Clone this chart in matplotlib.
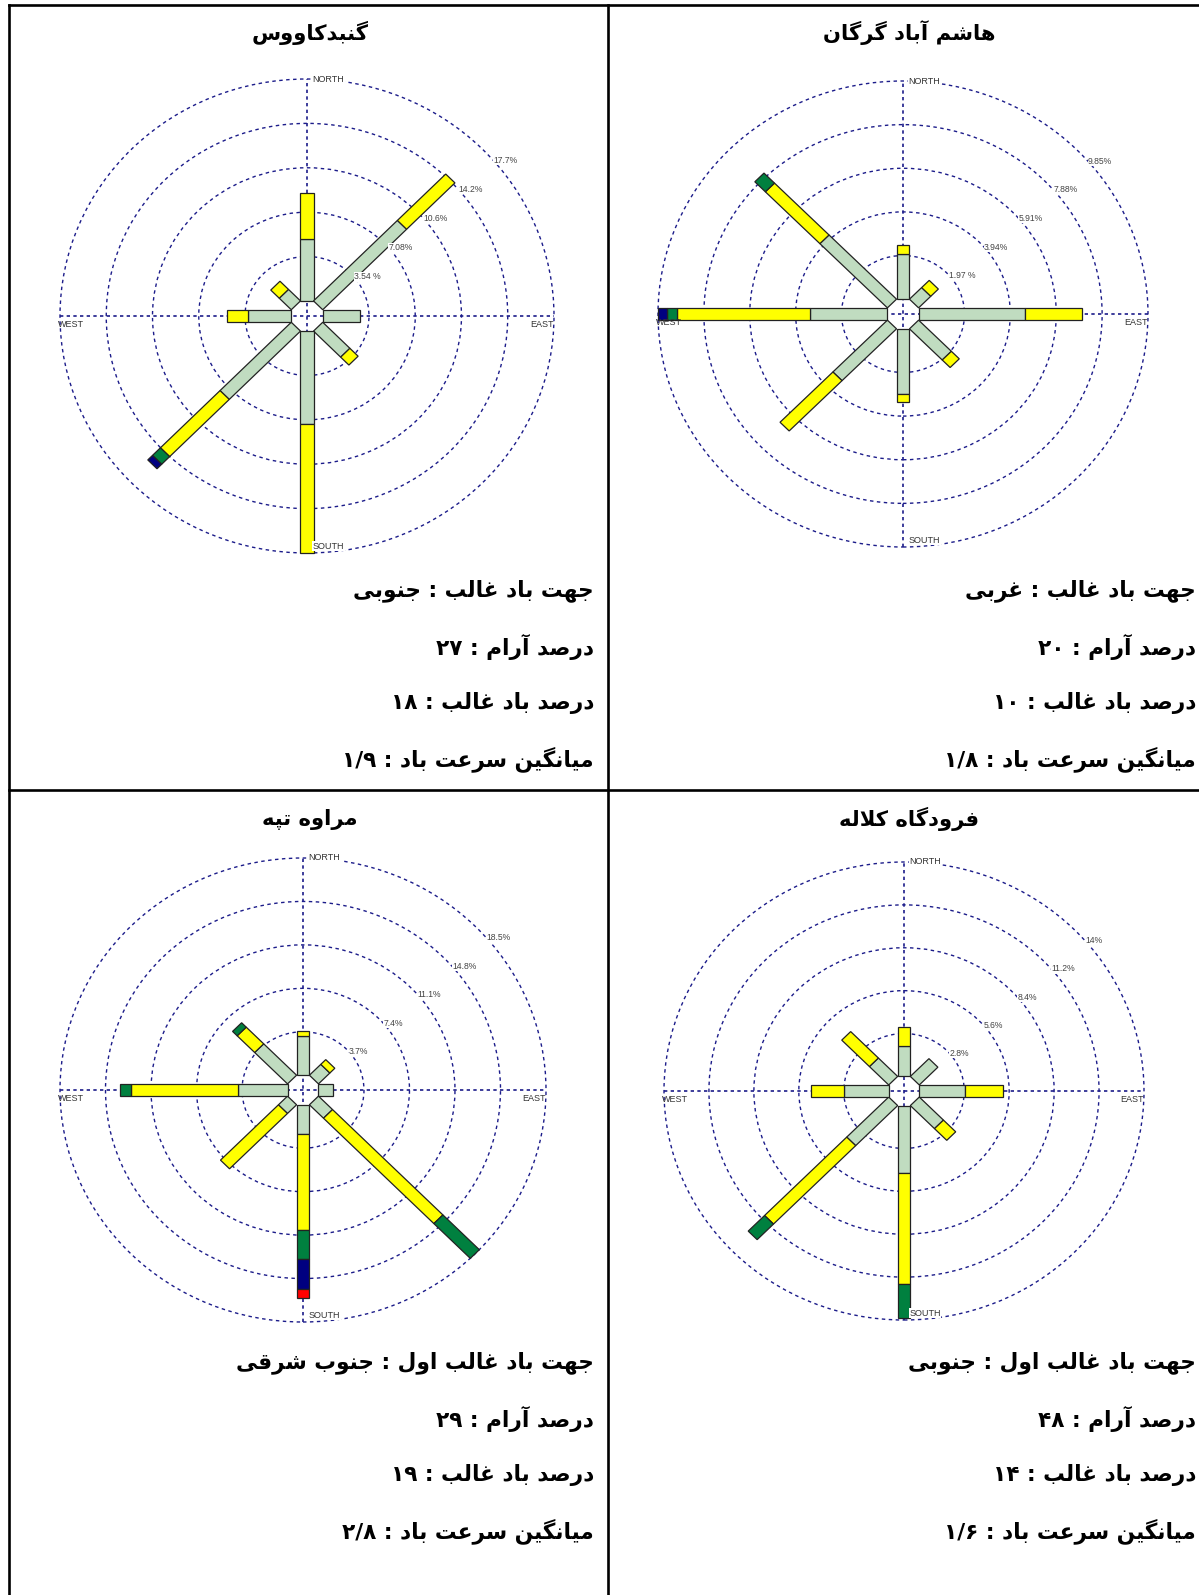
import re
import numpy as np
import matplotlib
matplotlib.use("Agg")
import matplotlib.pyplot as plt
from matplotlib.patches import Polygon, Circle

W, H = 1199, 1595

# petal order: N, NE, E, SE, S, SW, W, NW ; rows = speed classes (%)
gonbad = [
    [4.94, 9.08, 2.84, 2.94, 7.42, 7.71, 3.29, 1.30],
    [3.68, 5.23, 0.00, 0.89, 10.28, 6.45, 1.63, 0.92],
    [0, 0, 0, 0, 0, 0.86, 0, 0],
    [0, 0, 0, 0, 0, 0.51, 0, 0],
]
hashemabad = [
    [2.03, 0.74, 4.57, 1.99, 2.93, 3.31, 3.31, 4.10],
    [0.40, 0.46, 2.44, 0.48, 0.39, 3.21, 5.73, 3.31],
    [0, 0, 0, 0, 0, 0, 0.41, 0.64],
    [0, 0, 0, 0, 0, 0, 0.40, 0],
]
maraveh = [
    [3.37, 1.31, 1.21, 1.62, 2.45, 1.05, 4.04, 3.78],
    [0.38, 0.57, 0.00, 12.69, 8.23, 6.66, 8.67, 2.01],
    [0, 0, 0, 4.19, 2.45, 0, 0.90, 0.53],
    [0, 0, 0, 0, 2.55, 0, 0, 0],
    [0, 0, 0, 0, 0.77, 0, 0, 0],
]
kalaleh = [
    [1.98, 1.64, 2.85, 2.13, 4.39, 3.70, 2.81, 1.70],
    [1.26, 0.00, 2.39, 1.08, 7.27, 7.24, 2.05, 2.44],
    [0, 0, 0, 0, 2.24, 1.44, 0, 0],
]

ring_steps = [3.54, 1.97, 3.7, 2.8]
ring_labels = [
    ["3.54 %", "7.08%", "10.6%", "14.2%", "17.7%"],
    ["1.97 %", "3.94%", "5.91%", "7.88%", "9.85%"],
    ["3.7%", "7.4%", "11.1%", "14.8%", "18.5%"],
    ["2.8%", "5.6%", "8.4%", "11.2%", "14%"],
]

titles = ["گنبدکاووس", "هاشم آباد گرگان", "مراوه تپه", "فرودگاه کلاله"]
dominant_dir = ["جنوبی", "غربی", "جنوب شرقی", "جنوبی"]
calm_pct = [27, 20, 29, 48]
dominant_pct = [18, 10, 19, 14]
mean_speed = ["1/9", "1/8", "2/8", "1/6"]

class_colors = ["#C0DCC0", "#FFFF00", "#00803F", "#000080", "#FF0000"]
RING = "#1c1c8a"
CALM = 0.34   # calm circle radius, in ring units

# --- simple persian shaping (matplotlib has no bidi / joining) ---
FORMS = {
    'ا': ('\uFE8D', '\uFE8E', None, None),
    'آ': ('\uFE81', '\uFE82', None, None),
    'ب': ('\uFE8F', '\uFE90', '\uFE91', '\uFE92'),
    'پ': ('\uFB56', '\uFB57', '\uFB58', '\uFB59'),
    'ت': ('\uFE95', '\uFE96', '\uFE97', '\uFE98'),
    'ج': ('\uFE9D', '\uFE9E', '\uFE9F', '\uFEA0'),
    'د': ('\uFEA9', '\uFEAA', None, None),
    'ر': ('\uFEAD', '\uFEAE', None, None),
    'س': ('\uFEB1', '\uFEB2', '\uFEB3', '\uFEB4'),
    'ش': ('\uFEB5', '\uFEB6', '\uFEB7', '\uFEB8'),
    'ص': ('\uFEB9', '\uFEBA', '\uFEBB', '\uFEBC'),
    'ع': ('\uFEC9', '\uFECA', '\uFECB', '\uFECC'),
    'غ': ('\uFECD', '\uFECE', '\uFECF', '\uFED0'),
    'ف': ('\uFED1', '\uFED2', '\uFED3', '\uFED4'),
    'ق': ('\uFED5', '\uFED6', '\uFED7', '\uFED8'),
    '\u06A9': ('\uFB8E', '\uFB8F', '\uFB90', '\uFB91'),
    'گ': ('\uFB92', '\uFB93', '\uFB94', '\uFB95'),
    'ل': ('\uFEDD', '\uFEDE', '\uFEDF', '\uFEE0'),
    'م': ('\uFEE1', '\uFEE2', '\uFEE3', '\uFEE4'),
    'ن': ('\uFEE5', '\uFEE6', '\uFEE7', '\uFEE8'),
    'ه': ('\uFEE9', '\uFEEA', '\uFEEB', '\uFEEC'),
    'و': ('\uFEED', '\uFEEE', None, None),
    '\u06CC': ('\uFBFC', '\uFBFD', '\uFBFE', '\uFBFF'),
    '\uE000': ('\uFEFB', '\uFEFC', None, None),   # lam-alef
}


def fa_digits(s):
    return s.translate(str.maketrans("0123456789", "۰۱۲۳۴۵۶۷۸۹"))


def shape(s):
    s = s.replace('\u064A', '\u06CC').replace('\u0643', '\u06A9')
    s = s.replace('لا', '\uE000')
    out = []
    for i, ch in enumerate(s):
        if ch not in FORMS:
            out.append(ch)
            continue
        iso, fin, ini, med = FORMS[ch]
        prev = s[i - 1] if i > 0 else ''
        nxt = s[i + 1] if i + 1 < len(s) else ''
        jp = prev in FORMS and FORMS[prev][2] is not None
        jn = ini is not None and nxt in FORMS
        out.append(med if (jp and jn) else fin if jp else ini if jn else iso)
    vis = ''.join(out)[::-1]
    return re.sub('[۰-۹/]+', lambda m: m.group(0)[::-1], vis)


def draw_rose(cx, cy, rh, rv, freqs, step, labels):
    u_out = CALM + 5
    w = 12 * rh / u_out
    h = 12 * rv / u_out
    ax = fig.add_axes([(cx - w / 2) / W, 1 - (cy + h / 2) / H, w / W, h / H])
    ax.set_xlim(-6, 6)
    ax.set_ylim(-6, 6)
    ax.axis('off')
    for k in range(1, 6):
        ax.add_patch(Circle((0, 0), CALM + k, fill=False, ec=RING, lw=1.0,
                            ls=(0, (2.5, 2.5)), zorder=1))
    ax.plot([-u_out, u_out], [0, 0], color=RING, lw=1.2, ls=(0, (2, 2)), zorder=1)
    ax.plot([0, 0], [-u_out, u_out], color=RING, lw=1.2, ls=(0, (2, 2)), zorder=1)

    half = CALM * np.tan(np.pi / 8)
    for j in range(8):
        t = np.radians(45 * j)
        d = np.array([np.sin(t), np.cos(t)])
        p = np.array([np.cos(t), -np.sin(t)])
        start = 0.0
        for i, row in enumerate(freqs):
            f = row[j]
            if f <= 0:
                continue
            u0 = CALM + start / step
            u1 = CALM + (start + f) / step
            pts = [u0 * d + half * p, u1 * d + half * p, u1 * d - half * p, u0 * d - half * p]
            ax.add_patch(Polygon(pts, closed=True, fc=class_colors[i], ec="#222222",
                                 lw=0.9, zorder=3))
            start += f

    lab = dict(fontsize=6.5, color="#333333", family="Liberation Sans", zorder=4)
    box = dict(fc="white", ec="none", pad=0.4)
    ax.text(0.12, u_out, "NORTH", ha="left", va="center", bbox=box, **lab)
    ax.text(0.12, -u_out + 0.05, "SOUTH", ha="left", va="bottom", bbox=box, **lab)
    ax.text(-u_out - 0.05, -0.1, "WEST", ha="left", va="top", **lab)
    ax.text(u_out, -0.1, "EAST", ha="right", va="top", **lab)
    a = np.radians(41)
    for k, s in enumerate(labels, start=1):
        r = CALM + k
        ax.text(r * np.cos(a), r * np.sin(a), s, ha="left", va="center",
                fontsize=6.2, color="#444444", family="Liberation Sans",
                bbox=dict(fc="white", ec="none", pad=0.2), zorder=4)


fig = plt.figure(figsize=(W / 100, H / 100), dpi=100)
bg = fig.add_axes([0, 0, 1, 1])
bg.set_xlim(0, W)
bg.set_ylim(H, 0)
bg.axis('off')

# table grid
lw = 1.9
bg.plot([9, W], [5, 5], color="black", lw=lw)
bg.plot([9, W], [790, 790], color="black", lw=lw)
bg.plot([9, 9], [5, H], color="black", lw=lw)
bg.plot([608, 608], [5, H], color="black", lw=lw)

fa = dict(family="DejaVu Sans", weight="bold", color="black")
title_pos = [(310, 33), (909, 33), (310, 819), (909, 819)]
text_right = [594, 1196, 594, 1196]
text_top = [591, 591, 1363, 1363]
for n in range(4):
    bg.text(title_pos[n][0], title_pos[n][1], shape(titles[n]), ha="center", va="center",
            fontsize=15.2, **fa)
    first = "جهت باد غالب" + (" اول" if n >= 2 else "") + " : " + dominant_dir[n]
    lines = [first,
             "درصد آرام : " + fa_digits(str(calm_pct[n])),
             "درصد باد غالب : " + fa_digits(str(dominant_pct[n])),
             "میانگین سرعت باد : " + fa_digits(mean_speed[n])]
    for m, line in enumerate(lines):
        bg.text(text_right[n], text_top[n] + 56 * m, shape(line), ha="right", va="center",
                fontsize=15.6, **fa)

draw_rose(307, 316, 247, 237, gonbad, ring_steps[0], ring_labels[0])
draw_rose(903, 314, 245, 233, hashemabad, ring_steps[1], ring_labels[1])
draw_rose(303, 1090, 243, 232, maraveh, ring_steps[2], ring_labels[2])
draw_rose(904, 1091, 240, 229, kalaleh, ring_steps[3], ring_labels[3])

fig.savefig("out.png", dpi=100)
